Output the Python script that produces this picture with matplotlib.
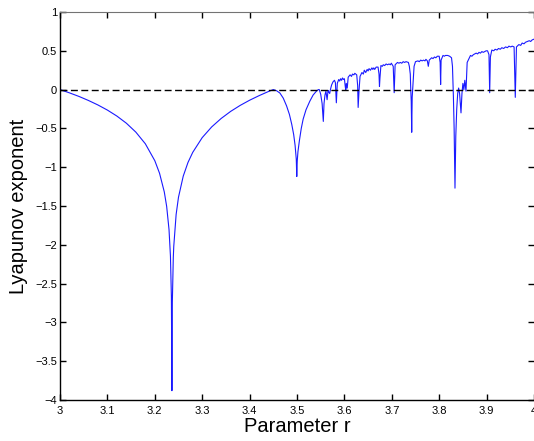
import numpy as np
import matplotlib
matplotlib.use("Agg")
import matplotlib.pyplot as plt

plt.rcParams['font.family'] = ['Liberation Sans', 'DejaVu Sans']

# period-2 branch (r = 3 .. 3.45)
r_p2 = [3.00, 3.02, 3.04, 3.06, 3.08, 3.10, 3.12, 3.14, 3.16, 3.18, 3.20, 3.21,
        3.22, 3.225, 3.23, 3.233, 3.235, 3.2361, 3.237, 3.239, 3.24, 3.245, 3.25,
        3.26, 3.27, 3.28, 3.30, 3.32, 3.34, 3.36, 3.38, 3.40, 3.42, 3.44, 3.449]
lyap_p2 = [0.0, -0.042, -0.088, -0.140, -0.198, -0.264, -0.341, -0.433, -0.548, -0.698, -0.916, -1.078,
           -1.318, -1.504, -1.804, -2.145, -2.67, -3.88, -2.74, -2.17, -2.02, -1.609, -1.386,
           -1.115, -0.939, -0.809, -0.619, -0.481, -0.372, -0.281, -0.204, -0.137, -0.078, -0.024, -0.002]

# period-4 branch
r_p4 = [3.450, 3.457, 3.464, 3.471, 3.478, 3.484, 3.489, 3.493, 3.496, 3.4985, 3.4995,
        3.5005, 3.502, 3.505, 3.509, 3.513, 3.519, 3.527, 3.534, 3.541, 3.545]
lyap_p4 = [0.0, -0.015, -0.045, -0.11, -0.21, -0.32, -0.45, -0.58, -0.72, -0.90, -1.12,
           -0.92, -0.80, -0.66, -0.50, -0.38, -0.26, -0.15, -0.07, -0.02, 0.0]

# period-8 / 16 cascade
r_p8 = [3.547, 3.550, 3.553, 3.5555, 3.557, 3.559, 3.561, 3.5635, 3.5655, 3.567, 3.569, 3.5705]
lyap_p8 = [0.0, -0.06, -0.18, -0.41, -0.18, -0.07, -0.02, -0.13, -0.01, -0.03, -0.05, 0.0]

# chaotic region with periodic windows
r_chaos = [3.573, 3.576, 3.579, 3.581, 3.583, 3.585, 3.588, 3.590, 3.592, 3.594, 3.596, 3.598,
           3.600, 3.602, 3.603, 3.604, 3.606, 3.608, 3.612, 3.615, 3.617, 3.620, 3.622, 3.626,
           3.628, 3.629, 3.631, 3.633, 3.637, 3.640, 3.642, 3.645, 3.648, 3.650, 3.652, 3.655,
           3.658, 3.660, 3.662, 3.664, 3.667, 3.671, 3.673, 3.674, 3.675, 3.677, 3.680, 3.682,
           3.685, 3.688, 3.691, 3.694, 3.697, 3.699, 3.703, 3.705, 3.707, 3.712, 3.715, 3.718,
           3.721, 3.724, 3.727, 3.730, 3.735, 3.737, 3.739, 3.740, 3.741, 3.742, 3.743, 3.744,
           3.745, 3.747, 3.750, 3.755, 3.758, 3.761, 3.764, 3.767, 3.770, 3.772, 3.775, 3.777,
           3.779, 3.784, 3.787, 3.790, 3.793, 3.796, 3.800, 3.802, 3.803, 3.804, 3.808, 3.811,
           3.813, 3.818, 3.822, 3.826, 3.828, 3.829, 3.830, 3.8315, 3.8333, 3.835, 3.837, 3.839,
           3.841, 3.843, 3.846, 3.848, 3.850, 3.852, 3.854, 3.8565, 3.859, 3.863, 3.866, 3.869,
           3.872, 3.875, 3.878, 3.881, 3.884, 3.887, 3.890, 3.893, 3.896, 3.899, 3.902, 3.905,
           3.9065, 3.908, 3.911, 3.915, 3.918, 3.922, 3.925, 3.929, 3.932, 3.936, 3.940, 3.944,
           3.947, 3.951, 3.954, 3.958, 3.9605, 3.963, 3.968, 3.972, 3.975, 3.979, 3.982, 3.986,
           3.990, 3.993, 3.996, 4.000]
lyap_chaos = [0.06, 0.10, 0.12, 0.09, -0.17, 0.08, 0.13, 0.11, 0.14, 0.12, 0.15, 0.13,
              0.14, 0.03, 0.0, 0.08, 0.02, 0.16, 0.19, 0.17, 0.20, 0.19, 0.21, 0.19,
              0.05, -0.23, 0.0, 0.17, 0.22, 0.20, 0.25, 0.22, 0.26, 0.24, 0.27, 0.25,
              0.28, 0.26, 0.28, 0.26, 0.29, 0.29, 0.20, 0.04, 0.15, 0.31, 0.30, 0.32,
              0.31, 0.33, 0.32, 0.33, 0.32, 0.34, 0.30, -0.04, 0.32, 0.35, 0.34, 0.35,
              0.34, 0.36, 0.35, 0.36, 0.35, 0.30, 0.20, 0.0, -0.15, -0.55, -0.10, 0.0,
              0.10, 0.30, 0.36, 0.37, 0.36, 0.38, 0.37, 0.38, 0.37, 0.39, 0.37, 0.30,
              0.38, 0.41, 0.40, 0.42, 0.41, 0.43, 0.43, 0.35, 0.065, 0.38, 0.44, 0.43,
              0.44, 0.44, 0.43, 0.41, 0.30, 0.10, -0.10, -0.5, -1.27, -0.60, -0.25, -0.05,
              0.02, -0.05, -0.30, -0.05, 0.08, 0.0, 0.12, -0.02, 0.35, 0.40, 0.44, 0.43,
              0.45, 0.46, 0.47, 0.46, 0.48, 0.47, 0.49, 0.48, 0.49, 0.50, 0.50, 0.45,
              -0.04, 0.42, 0.51, 0.50, 0.52, 0.51, 0.53, 0.52, 0.54, 0.53, 0.55, 0.54,
              0.56, 0.55, 0.56, 0.55, -0.10, 0.55, 0.58, 0.57, 0.60, 0.59, 0.61, 0.62,
              0.63, 0.62, 0.64, 0.65]

r_all = r_p2 + r_p4 + r_p8 + r_chaos
lyap_all = lyap_p2 + lyap_p4 + lyap_p8 + lyap_chaos

fig = plt.figure(figsize=(5.34, 4.41), dpi=100)
ax = fig.add_axes([60/534, 41/441, 474/534, 388/441])

ax.plot(r_all, lyap_all, color="#1a1aff", linewidth=0.8)
ax.axhline(0, color="black", linestyle=(0, (5, 2.5)), linewidth=1.0)

#Axes
ax.set_xlim(3, 4)
ax.set_ylim(-4, 1)
ax.set_xticks(np.arange(3, 4.01, 0.1))
ax.set_xticklabels(["3", "3.1", "3.2", "3.3", "3.4", "3.5", "3.6", "3.7", "3.8", "3.9", "4"])
ax.set_yticks(np.arange(-4, 1.01, 0.5))
ax.set_yticklabels(["\u22124", "\u22123.5", "\u22123", "\u22122.5", "\u22122", "\u22121.5",
                    "\u22121", "\u22120.5", "0", "0.5", "1"])
ax.tick_params(direction="in", length=4, width=1, labelsize=8, pad=2,
               top=True, right=True)
ax.tick_params(axis="x", pad=4)
ax.spines["right"].set_visible(False)
ax.spines["top"].set_color("0.45")
for s in ["left", "bottom"]:
    ax.spines[s].set_linewidth(1.0)

ax.set_xlabel("Parameter r", fontsize=14.5, labelpad=1)
ax.set_ylabel("Lyapunov exponent", fontsize=14.5, labelpad=5)

fig.savefig("out.png", dpi=100)
